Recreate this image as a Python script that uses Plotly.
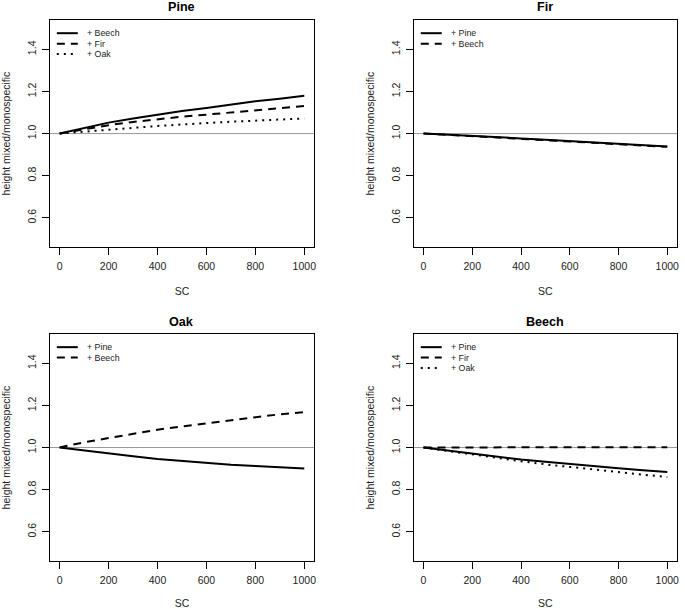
import plotly.graph_objects as go

# ---------------- data ----------------
sc = [0, 100, 200, 300, 400, 500, 600, 700, 800, 900, 1000]

# Pine panel
pine_beech = [1.000, 1.027, 1.052, 1.072, 1.090, 1.107, 1.122, 1.138, 1.153, 1.166, 1.180]
pine_fir   = [1.000, 1.020, 1.040, 1.055, 1.068, 1.080, 1.090, 1.100, 1.111, 1.121, 1.131]
pine_oak   = [1.000, 1.008, 1.018, 1.027, 1.036, 1.044, 1.050, 1.056, 1.062, 1.067, 1.072]

# Fir panel
fir_pine   = [1.000, 0.995, 0.989, 0.983, 0.977, 0.971, 0.965, 0.959, 0.952, 0.945, 0.938]
fir_beech  = [1.000, 0.994, 0.988, 0.982, 0.976, 0.970, 0.964, 0.958, 0.951, 0.944, 0.937]

# Oak panel
oak_pine   = [1.000, 0.985, 0.971, 0.958, 0.946, 0.936, 0.926, 0.918, 0.912, 0.906, 0.900]
oak_beech  = [1.000, 1.025, 1.045, 1.066, 1.085, 1.100, 1.115, 1.130, 1.145, 1.158, 1.168]

# Beech panel
beech_pine = [1.000, 0.985, 0.970, 0.955, 0.943, 0.932, 0.921, 0.911, 0.901, 0.892, 0.884]
beech_fir  = [1.000, 1.001, 1.001, 1.001, 1.001, 1.001, 1.001, 1.001, 1.001, 1.001, 1.001]
beech_oak  = [1.000, 0.983, 0.967, 0.950, 0.935, 0.920, 0.907, 0.895, 0.883, 0.871, 0.860]

panel_titles = ["Pine", "Fir", "Oak", "Beech"]
x_ticks = [0, 200, 400, 600, 800, 1000]
y_ticks = [0.6, 0.8, 1.0, 1.2, 1.4]
x_title = "SC"
y_title = "height mixed/monospecific"

SOLID, DASH, DOT = "solid", "8px,6px", "2px,5px"
panels = [
    [("+ Beech", pine_beech, SOLID), ("+ Fir", pine_fir, DASH), ("+ Oak", pine_oak, DOT)],
    [("+ Pine", fir_pine, SOLID), ("+ Beech", fir_beech, DASH)],
    [("+ Pine", oak_pine, SOLID), ("+ Beech", oak_beech, DASH)],
    [("+ Pine", beech_pine, SOLID), ("+ Fir", beech_fir, DASH), ("+ Oak", beech_oak, DOT)],
]

# ---------------- layout geometry (pixels) ----------------
W, H = 685, 609
FONT = "Liberation Sans, Arial, sans-serif"
TXT = "#222222"
boxes = [  # left, right, top, bottom in px
    (50, 315, 20, 248),
    (415, 679, 20, 248),
    (50, 315, 335, 563),
    (415, 679, 335, 563),
]
title_y = [7, 7, 323, 323]

fig = go.Figure()
layout = dict(
    width=W, height=H, autosize=False,
    margin=dict(l=0, r=0, t=0, b=0),
    paper_bgcolor="white", plot_bgcolor="white",
    showlegend=False,
    font=dict(family=FONT, size=10.5, color=TXT),
    annotations=[], shapes=[],
)

for i, (series, box) in enumerate(zip(panels, boxes)):
    n = i + 1
    xa = "x" if n == 1 else f"x{n}"
    ya = "y" if n == 1 else f"y{n}"
    l, r, t, b = box
    xdom = [l / W, r / W]
    ydom = [1 - b / H, 1 - t / H]
    axis_common = dict(
        showline=True, mirror=True, linecolor="black", linewidth=1,
        ticks="outside", ticklen=7, tickwidth=1, tickcolor="black",
        showgrid=False, zeroline=False,
        tickfont=dict(family=FONT, size=10.5, color=TXT),
    )
    layout["xaxis" + ("" if n == 1 else str(n))] = dict(
        domain=xdom, anchor=ya, range=[-40, 1040],
        tickvals=x_ticks, ticklabelstandoff=2,
        title=dict(text=x_title, font=dict(family=FONT, size=10.5, color=TXT), standoff=16),
        **axis_common,
    )
    layout["yaxis" + ("" if n == 1 else str(n))] = dict(
        domain=ydom, anchor=xa, range=[0.46, 1.54],
        tickvals=y_ticks, tickformat=".1f", tickangle=-90, ticklabelstandoff=2,
        title=dict(text=y_title, font=dict(family=FONT, size=10.5, color=TXT), standoff=12),
        **axis_common,
    )

    # reference line at 1.0
    layout["shapes"].append(dict(
        type="line", xref=f"{xa} domain", yref=ya, x0=0, x1=1, y0=1.0, y1=1.0,
        line=dict(color="#999999", width=1), layer="below",
    ))

    for j, (name, vals, dash) in enumerate(series):
        fig.add_trace(go.Scatter(
            x=sc, y=vals, mode="lines", name=name,
            line=dict(color="black", width=2, dash=dash),
            xaxis=xa, yaxis=ya, showlegend=False,
        ))
        # manual R-style legend entry
        row_px = 13.3 + 10.5 * j
        yd = 1 - row_px / (b - t)
        layout["shapes"].append(dict(
            type="line", xref=f"{xa} domain", yref=f"{ya} domain",
            x0=7 / (r - l), x1=28 / (r - l), y0=yd, y1=yd,
            line=dict(color="black", width=2, dash=dash),
        ))
        layout["annotations"].append(dict(
            text=name, xref=f"{xa} domain", yref=f"{ya} domain",
            x=35 / (r - l), y=yd, xanchor="left", yanchor="middle",
            showarrow=False, font=dict(family=FONT, size=8.8, color=TXT),
        ))

    # panel title
    layout["annotations"].append(dict(
        text=f"<b>{panel_titles[i]}</b>", xref="paper", yref="paper",
        x=(l + r) / 2 / W, y=1 - title_y[i] / H, xanchor="center", yanchor="middle",
        showarrow=False, font=dict(family=FONT, size=12.6, color="black"),
    ))

fig.update_layout(**layout)
fig.write_html(
    "out.html",
    config={"displayModeBar": False},
    post_script="document.body.style.margin='0';document.body.style.overflow='hidden';",
)
